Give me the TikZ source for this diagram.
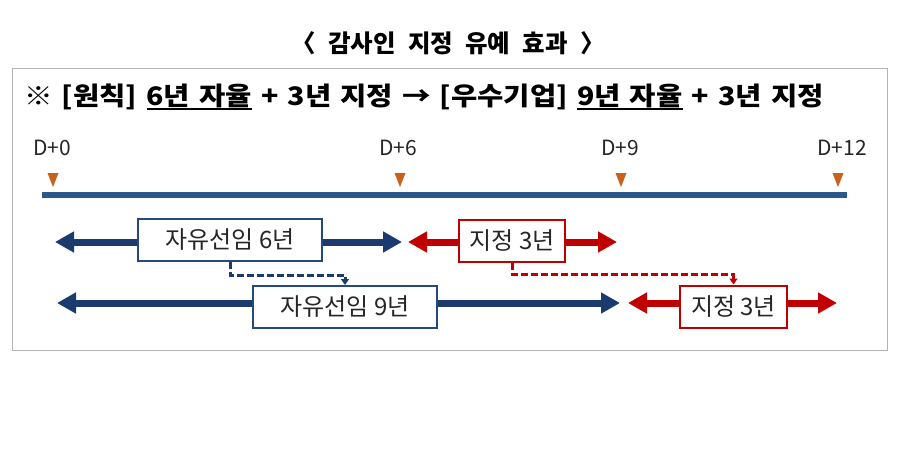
\documentclass[tikz,border=0pt]{standalone}
\usepackage{fontspec}
\setmainfont{Noto Sans CJK KR}
\newfontfamily\subfont{Noto Sans CJK KR}[FakeStretch=1.12]
\usetikzlibrary{arrows.meta}
\definecolor{navy}{HTML}{1B3A6E}
\definecolor{boxnavy}{HTML}{24497A}
\definecolor{barblue}{HTML}{2B5789}
\definecolor{redc}{HTML}{C00000}
\definecolor{orangec}{HTML}{C8611A}
\definecolor{framegray}{HTML}{B4B4B4}
\newcommand\myul[1]{\setbox0=\hbox{#1}\rlap{\rule[-4.5pt]{\wd0}{1.8pt}}\box0}
\newcommand\wg{\hspace{0.5em}}
\newcommand\sg{\hspace{0.36em}}
\tikzset{
  bluearr/.style={draw=navy, line width=7pt, {Triangle[length=19pt,width=20pt]}-{Triangle[length=19pt,width=20pt]}},
  redarr/.style={draw=redc, line width=7pt, {Triangle[length=19pt,width=20pt]}-{Triangle[length=19pt,width=20pt]}},
  boxb/.style={draw=boxnavy, line width=2pt, fill=white, inner sep=0pt, minimum height=42pt, font=\fontsize{24}{27}\selectfont, text=black!85},
  boxr/.style={draw=redc, line width=2pt, fill=white, inner sep=0pt, minimum height=42pt, font=\fontsize{24}{27}\selectfont, text=black!85},
  dashb/.style={draw=navy, line width=3pt, dash pattern=on 7pt off 3pt, -{Triangle[length=6pt,width=8pt]}},
  dashr/.style={draw=redc, line width=3pt, dash pattern=on 7pt off 3pt, -{Triangle[length=6pt,width=8pt]}},
  dlabel/.style={font=\fontsize{21}{24}\selectfont, text=black!85, inner sep=0pt},
  tri/.style={fill=orangec}
}
\begin{document}
\begin{tikzpicture}[x=1pt,y=-1pt]
\useasboundingbox (0,0) rectangle (900,450);
\fill[white] (0,0) rectangle (900,450);
% title
\node[font=\fontsize{24.5}{27}\selectfont\bfseries, inner sep=0pt] (title) at (448,43) {〈\wg 감사인\wg 지정\wg 유예\wg 효과\wg 〉};
% frame
\draw[framegray, line width=0.9pt] (12,68) rectangle (887,350);
% subtitle
\node[font=\subfont\fontsize{25.5}{28}\selectfont\bfseries, anchor=west, inner sep=0pt] (sub) at (24,97)
 {※\sg [원칙]\sg \myul{6년\sg 자율}\sg +\sg 3년\sg 지정\sg →\sg [우수기업]\sg \myul{9년\sg 자율}\sg +\sg 3년\sg 지정};
% timeline
\draw[barblue, line width=6pt] (42,195) -- (847,195);
\foreach \x/\lab/\lx/\nm in {53/D+0/52/d0, 400/D+6/398/d6, 621/D+9/620/d9, 838/D+12/842/d12}{
  \node[dlabel] (\nm) at (\lx,148) {\lab};
  \fill[tri] (\x-5.5,173) -- (\x+5.5,173) -- (\x,187) -- cycle;
}
% row 1 arrows
\coordinate (b1l) at (55,242);
\coordinate (b1r) at (402,242);
\coordinate (r1l) at (408,242);
\coordinate (r1r) at (617,242);
\draw[bluearr] (b1l) -- (b1r);
\draw[redarr] (r1l) -- (r1r);
\node[boxb, minimum width=184pt] (bx1) at (230,240) {자유선임 6년};
\node[boxr, minimum width=106pt] (rx1) at (512,241) {지정 3년};
% row 2 arrows
\coordinate (b2l) at (57,303);
\coordinate (b2r) at (620,303);
\coordinate (r2l) at (628,303);
\coordinate (r2r) at (837,303);
\draw[bluearr] (b2l) -- (b2r);
\draw[redarr] (r2l) -- (r2r);
\node[boxb, minimum width=184pt] (bx2) at (345,307) {자유선임 9년};
\node[boxr, minimum width=107pt] (rx2) at (733.5,306.5) {지정 3년};
% dashed connectors
\draw[dashb] (bx1.south) -- ++(0,13) -| (bx2.north);
\draw[dashr] (rx1.south) -- ++(0,11) -| (rx2.north);
\end{tikzpicture}
\end{document}
